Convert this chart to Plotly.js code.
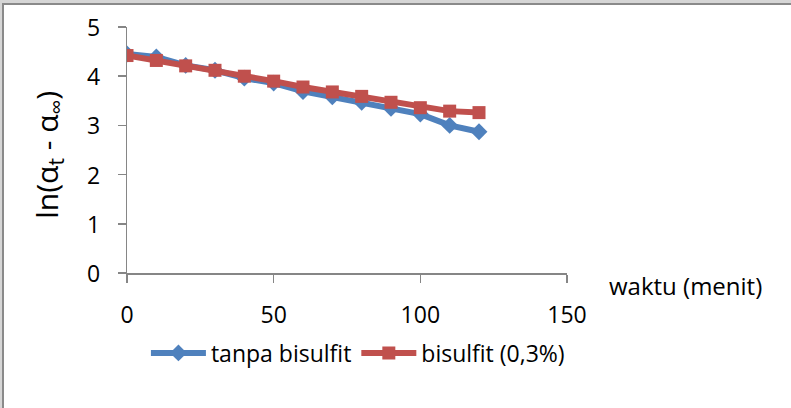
<!DOCTYPE html>
<html>
<head>
<meta charset="utf-8">
<script src="https://cdn.plot.ly/plotly-3.0.1.min.js"></script>
<style>
  html, body { margin: 0; padding: 0; width: 791px; height: 408px; overflow: hidden; background: #d6d6d6; }
  #frame { position: absolute; left: 2px; top: 3px; width: 789px; height: 405px; background: #ffffff;
           border-left: 2px solid #8a8a8a; border-top: 2px solid #8a8a8a; box-sizing: border-box; }
  #chart { position: absolute; left: 0; top: 0; width: 791px; height: 408px; }
</style>
</head>
<body>
<div id="frame"></div>
<div id="chart"></div>
<script>
// Data
const waktu = [0, 10, 20, 30, 40, 50, 60, 70, 80, 90, 100, 110, 120];
const tanpaBisulfit = [4.45, 4.39, 4.22, 4.12, 3.96, 3.86, 3.69, 3.58, 3.47, 3.35, 3.23, 3.00, 2.87];
const bisulfit03 = [4.42, 4.32, 4.21, 4.12, 4.00, 3.90, 3.78, 3.68, 3.59, 3.47, 3.36, 3.29, 3.26];
const seriesNames = ["tanpa bisulfit", "bisulfit (0,3%)"];
const xTicks = [0, 50, 100, 150];
const yTicks = [0, 1, 2, 3, 4, 5];
const xTitle = "waktu (menit)";
const yTitle = "ln(α<sub>t</sub> - α<sub>∞</sub>)";

const FONT = "'Open Sans', sans-serif";
const FS = 23;
const axisColor = "#868686";

const traces = [
  {
    x: waktu, y: tanpaBisulfit, name: seriesNames[0], type: "scatter", mode: "lines+markers",
    line: { color: "#4f81bd", width: 6 },
    marker: { symbol: "diamond", size: 13, color: "#4f81bd" }
  },
  {
    x: waktu, y: bisulfit03, name: seriesNames[1], type: "scatter", mode: "lines+markers",
    line: { color: "#c0504d", width: 6 },
    marker: { symbol: "square", size: 13, color: "#c0504d" }
  }
];

// y tick labels placed on the y scale (to the left of the outside ticks)
const yTickAnnotations = yTicks.map(v => ({
  text: String(v), xref: "paper", yref: "y", x: -0.056, y: v,
  xanchor: "right", yanchor: "middle", showarrow: false,
  font: { family: FONT, size: FS, color: "#000000" }
}));

const layout = {
  width: 791, height: 408,
  paper_bgcolor: "rgba(0,0,0,0)", plot_bgcolor: "rgba(0,0,0,0)",
  margin: { l: 127, r: 224, t: 27, b: 135, pad: 0 },
  font: { family: FONT, size: FS, color: "#000000" },
  showlegend: true,
  legend: {
    orientation: "h", x: 0.043, xanchor: "left", y: -0.325, yanchor: "middle",
    font: { family: FONT, size: FS, color: "#000000" },
    bgcolor: "rgba(0,0,0,0)", itemwidth: 55,
    tracegroupgap: 0
  },
  xaxis: {
    range: [0, 150], tickvals: xTicks, ticktext: xTicks.map(String),
    showgrid: false, zeroline: false, showline: true, linecolor: axisColor, linewidth: 1.5,
    ticks: "outside", ticklen: 8, tickcolor: axisColor, tickwidth: 1.5,
    ticklabelstandoff: 13, tickfont: { family: FONT, size: FS, color: "#000000" },
    fixedrange: true
  },
  yaxis: {
    range: [0, 5], tickvals: yTicks, showticklabels: false,
    showgrid: false, zeroline: false, showline: true, linecolor: axisColor, linewidth: 1.5,
    ticks: "outside", ticklen: 8, tickcolor: axisColor, tickwidth: 1.5,
    fixedrange: true
  },
  annotations: [
    { text: xTitle, xref: "paper", yref: "paper", x: 1.09, y: -0.05, xanchor: "left", yanchor: "middle",
      showarrow: false, font: { family: FONT, size: 24, color: "#000000" } },
    { text: yTitle, xref: "paper", yref: "paper", x: -0.18, y: 0.48, xanchor: "center", yanchor: "middle",
      textangle: -90, showarrow: false, font: { family: FONT, size: 30, color: "#000000" } }
  ].concat(yTickAnnotations)
};

Plotly.newPlot("chart", traces, layout, { staticPlot: true, displayModeBar: false });
</script>
</body>
</html>
